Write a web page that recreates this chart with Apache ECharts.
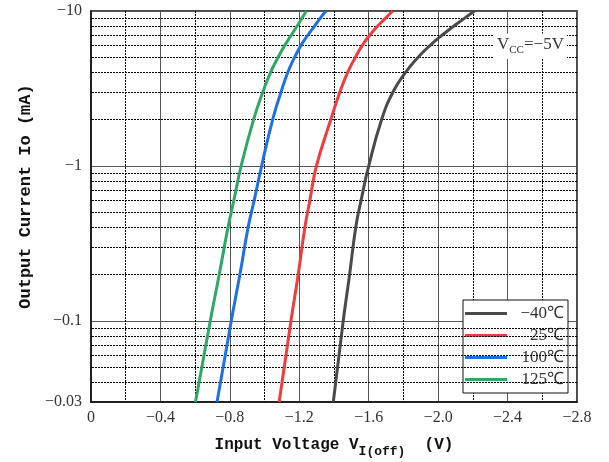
<!DOCTYPE html>
<html><head><meta charset="utf-8">
<script src="https://cdn.jsdelivr.net/npm/echarts@6/dist/echarts.min.js"></script>
<style>html,body{margin:0;padding:0;background:#fff}#c{width:609px;height:462px}</style>
</head><body><div id="c"></div>
<script>
// Output current magnitudes (mA); the axis labels show them as negative values
const currents = [0.03, 0.1, 0.2, 0.4, 0.6, 1, 2, 3, 4, 5, 6, 7, 8, 9, 10];
// Input voltage V_I(off) (V) for each temperature
const vMinus40 = [-1.396, -1.453, -1.490, -1.525, -1.556, -1.600, -1.675, -1.740, -1.811, -1.882, -1.954, -2.024, -2.091, -2.153, -2.210];
const v25      = [-1.084, -1.152, -1.194, -1.232, -1.261, -1.299, -1.382, -1.434, -1.478, -1.522, -1.563, -1.607, -1.652, -1.697, -1.738];
const v100     = [-0.726, -0.808, -0.858, -0.905, -0.940, -0.983, -1.047, -1.095, -1.133, -1.172, -1.210, -1.250, -1.288, -1.321, -1.354];
const v125     = [-0.602, -0.687, -0.739, -0.789, -0.823, -0.865, -0.937, -0.990, -1.034, -1.077, -1.116, -1.154, -1.188, -1.216, -1.241];
const seriesNames = ['−40℃', '25℃', '100℃', '125℃'];
const seriesValues = [vMinus40, v25, v100, v125];
const seriesColors = ['#4a4a4a', '#f03c3c', '#1f6fe5', '#2fa866'];
// minor log grid lines
const minorCurrents = [0.04, 0.05, 0.06, 0.07, 0.08, 0.09, 0.2, 0.3, 0.4, 0.5, 0.6, 0.7, 0.8, 0.9, 2, 3, 4, 5, 6, 7, 8, 9];
const xMin = -2.8, xMax = 0, xInterval = 0.4;
const yMin = 0.03, yMax = 10;

const chart = echarts.init(document.getElementById('c'), null, {renderer: 'canvas'});
const labelFont = 'Liberation Serif';
const nameFont = 'Liberation Mono';

const series = seriesNames.map((n, i) => ({
  name: n, type: 'line', symbol: 'none', smooth: 0.5, z: 5,
  lineStyle: {width: 3, color: seriesColors[i]},
  itemStyle: {color: seriesColors[i]},
  data: currents.map((c, k) => [seriesValues[i][k], c])
}));
series.push({
  type: 'line', data: [], z: 1, silent: true,
  markLine: {
    silent: true, symbol: ['none', 'none'], label: {show: false}, animation: false,
    lineStyle: {color: '#000', type: [2, 1], width: 1},
    data: minorCurrents.map(v => ({yAxis: v}))
  }
});

chart.setOption({
  animation: false,
  backgroundColor: '#fff',
  grid: {left: 91, right: 32, top: 11, bottom: 60, show: true, borderColor: '#111', borderWidth: 1.5, backgroundColor: '#fff',
    containLabel: false, outerBoundsMode: 'none'},
  title: {
    text: '{v|V}{s|CC}{v|=−5V}', left: 494, top: 31, backgroundColor: '#fff', padding: [3, 3],
    textStyle: {fontWeight: 'normal', rich: {
      v: {fontFamily: labelFont, fontWeight: 'normal', fontSize: 17, color: '#333'},
      s: {fontFamily: labelFont, fontWeight: 'normal', fontSize: 11, color: '#333', padding: [11, 0, 0, 0]}
    }}
  },
  legend: {
    orient: 'vertical', left: 463, top: 300, backgroundColor: '#fff', borderColor: '#111', borderWidth: 1,
    padding: [5, 4, 5, 2], itemGap: 5, itemWidth: 42, itemHeight: 3, icon: 'rect',
    data: seriesNames,
    formatter: n => '{t|' + n + '}',
    textStyle: {fontFamily: labelFont, fontSize: 17, color: '#333',
      rich: {t: {width: 52, align: 'right', fontFamily: labelFont, fontSize: 17, lineHeight: 18, color: '#333'}}}
  },
  xAxis: {
    type: 'value', min: xMin, max: xMax, interval: xInterval, inverse: true,
    axisLine: {show: true, lineStyle: {color: '#111', width: 1.5}},
    axisTick: {show: false},
    axisLabel: {margin: 8, fontFamily: labelFont, fontSize: 16, color: '#333',
      formatter: v => Math.abs(v) < 1e-9 ? '0' : '−' + Math.abs(v).toFixed(1)},
    splitLine: {show: true, lineStyle: {color: '#555', width: 1}},
    minorTick: {show: false, splitNumber: 2},
    minorSplitLine: {show: true, lineStyle: {color: '#000', type: [2, 1], width: 1}},
    name: '{a|Input Voltage V}{s|I(off)}{a|  (V)}', nameLocation: 'middle', nameGap: 29,
    nameTextStyle: {rich: {
      a: {fontFamily: nameFont, fontWeight: 'bold', fontSize: 16, color: '#111'},
      s: {fontFamily: nameFont, fontWeight: 'bold', fontSize: 13, color: '#111', padding: [14, 0, 0, 0]}
    }}
  },
  yAxis: {
    type: 'log', logBase: 10, min: yMin, max: yMax,
    axisLine: {show: true, lineStyle: {color: '#111', width: 1.5}},
    axisTick: {show: false},
    axisLabel: {margin: 9, fontFamily: labelFont, fontSize: 16, color: '#333',
      formatter: v => '−' + parseFloat(Number(v).toPrecision(6))},
    splitLine: {show: true, lineStyle: {color: '#555', width: 1}},
    name: 'Output Current Io (mA)', nameLocation: 'middle', nameGap: 57,
    nameTextStyle: {fontFamily: nameFont, fontWeight: 'bold', fontSize: 17, color: '#111', padding: [0, 0, 0, 20]}
  },
  series: series
});
</script></body></html>
